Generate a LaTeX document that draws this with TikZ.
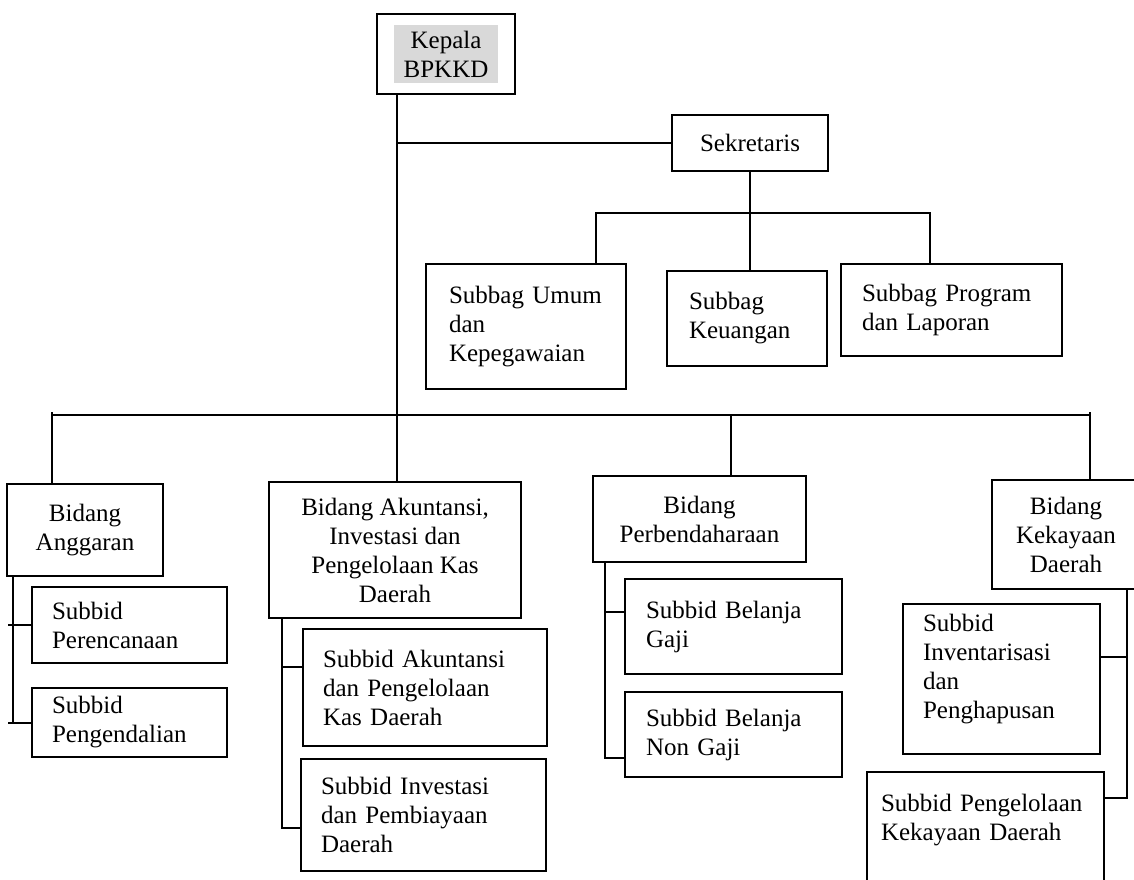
\documentclass[tikz,border=0pt]{standalone}
\usepackage{fontspec}
\setmainfont{Liberation Serif}
\usetikzlibrary{positioning,fit,calc}
\definecolor{headgray}{HTML}{D9D9D9}
\newcommand{\orgfont}{\fontsize{12.5}{14.5}\selectfont}
\tikzset{
  orgbox/.style={draw=black,line width=1pt,inner sep=0pt,font=\orgfont},
  midbox/.style={orgbox,align=center},
  leftbox/.style={orgbox,align=left},
  topbox/.style={leftbox,anchor=north west,text height=8.5pt},
  link/.style={draw=black,line width=1pt}
}

\begin{document}
\begin{tikzpicture}[x=0.5pt,y=-0.5pt]
  \useasboundingbox (0,0) rectangle (1134,879);
  % top level
  \node[fill=headgray,minimum width=52pt,minimum height=29pt,inner sep=0pt,align=center,font=\orgfont] (kepalatxt) at (446,54) {Kepala\\BPKKD};
  \node[orgbox,fit=(kepalatxt),inner xsep=8.5pt,inner ysep=5.5pt] (kepala) {};
  \node[midbox,minimum width=78pt,minimum height=28pt] (sekretaris) at (750,143) {Sekretaris};

  % subbag row
  \node[leftbox,minimum width=100pt,minimum height=62.5pt,text width=77pt,inner xsep=11.5pt] (umum) at (526,326.5) {Subbag~Umum\\dan\\Kepegawaian};
  \node[leftbox,minimum width=80pt,minimum height=47.5pt,text width=58pt,inner xsep=11pt] (keuangan) at (747,318.5) {Subbag\\Keuangan};
  \node[leftbox,minimum width=110.5pt,minimum height=46pt,text width=89.5pt,inner xsep=10.5pt] (program) at (951.5,310) {Subbag~Program\\dan~Laporan};

  % bidang row
  \node[midbox,minimum width=78pt,minimum height=46pt] (anggaran) at (85,530) {Bidang\\Anggaran};
  \node[midbox,minimum width=126pt,minimum height=68pt] (akuntansi) at (395,550) {Bidang Akuntansi,\\Investasi dan\\Pengelolaan Kas\\Daerah};
  \node[midbox,minimum width=106.5pt,minimum height=43pt] (perbendaharaan) at (699.5,519) {Bidang\\Perbendaharaan};
  \node[midbox,minimum width=74pt,minimum height=54.5pt] (kekayaan) at (1066,534.5) {Bidang\\Kekayaan\\Daerah};

  % subbid boxes
  \node[leftbox,minimum width=97.5pt,minimum height=38pt,text width=77.5pt,inner xsep=10pt] (perencanaan) at (129.5,625) {Subbid\\Perencanaan};
  \node[leftbox,minimum width=97.5pt,minimum height=34.5pt,text width=77.5pt,inner xsep=10pt] (pengendalian) at (129.5,722.5) {Subbid\\Pengendalian};
  \node[leftbox,minimum width=122pt,minimum height=58.5pt,text width=102pt,inner xsep=10pt] (subakuntansi) at (425,687.5) {Subbid~Akuntansi\\dan~Pengelolaan\\Kas~Daerah};
  \node[leftbox,minimum width=122.5pt,minimum height=56pt,text width=102.5pt,inner xsep=10pt] (subinvestasi) at (423.5,815) {Subbid~Investasi\\dan~Pembiayaan\\Daerah};
  \node[leftbox,minimum width=108.5pt,minimum height=47.5pt,text width=87.5pt,inner xsep=10.5pt] (gaji) at (733.5,626.5) {Subbid~Belanja\\Gaji};
  \node[leftbox,minimum width=108.5pt,minimum height=42.5pt,text width=87.5pt,inner xsep=10.5pt] (nongaji) at (733.5,734.5) {Subbid~Belanja\\Non~Gaji};
  \node[topbox,minimum width=98.5pt,text width=78.5pt,inner xsep=10pt,inner ysep=5pt,text depth=56.5pt] (inventarisasi) at (902,603) {Subbid\\Inventarisasi\\dan\\Penghapusan};
  \node[topbox,minimum width=118.5pt,text width=104.5pt,inner xsep=7pt,inner ysep=11pt,text depth=50pt] (pengelolaan) at (866,771) {Subbid~Pengelolaan\\Kekayaan~Daerah};

  % junction points
  \coordinate (trunktop) at ($(kepala.south west)+(21,0)$);
  \coordinate (umumdrop) at (596,213);
  \coordinate (programdrop) at (930,213);
  \coordinate (busleft) at (52,415);
  \coordinate (busright) at (1090,415);
  \coordinate (busperb) at (731,415);
  \coordinate (angspine) at ($(anggaran.south west)+(7,0)$);
  \coordinate (angstub) at ([xshift=-2.5pt]angspine);
  \coordinate (akunspine) at ($(akuntansi.south west)+(14,0)$);
  \coordinate (perbspine) at ($(perbendaharaan.south west)+(13,0)$);
  \coordinate (kekspine) at ($(kekayaan.south west)+(136,0)$);
  \coordinate (subakuntick) at ([yshift=10.25pt]subakuntansi.west);
  \coordinate (subinvtick) at ([yshift=-6.5pt]subinvestasi.west);
  \coordinate (gajitick) at ([yshift=7.25pt]gaji.west);
  \coordinate (nongajitick) at ([yshift=-11.75pt]nongaji.west);
  \coordinate (invtick) at ([yshift=-27pt]inventarisasi.north east);
  \coordinate (pengtick) at ([yshift=-13.5pt]pengelolaan.north east);

  % connectors
  \draw[link] (trunktop) -- (trunktop |- akuntansi.north);
  \draw[link] (trunktop |- sekretaris.west) -- (sekretaris.west);
  \draw[link] (sekretaris.south) -- (sekretaris.south |- keuangan.north);
  \draw[link] (umumdrop |- umum.north) -- (umumdrop) -- (programdrop) -- (programdrop |- program.north);
  \draw[link] (busleft) -- (busright);
  \draw[link] ([yshift=1.5pt]busleft) -- (busleft |- anggaran.north);
  \draw[link] (busperb) -- (busperb |- perbendaharaan.north);
  \draw[link] ([yshift=1.5pt]busright) -- (busright |- kekayaan.north);

  \draw[link] (angspine) -- (angspine |- pengendalian.west);
  \draw[link] (angstub |- perencanaan.west) -- (perencanaan.west);
  \draw[link] (angstub |- pengendalian.west) -- (pengendalian.west);

  \draw[link] (akunspine) |- (subinvtick);
  \draw[link] (akunspine |- subakuntick) -- (subakuntick);

  \draw[link] (perbspine) |- (nongajitick);
  \draw[link] (perbspine |- gajitick) -- (gajitick);

  \draw[link] (kekspine) |- (pengtick);
  \draw[link] (kekspine |- invtick) -- (invtick);
\end{tikzpicture}
\end{document}
